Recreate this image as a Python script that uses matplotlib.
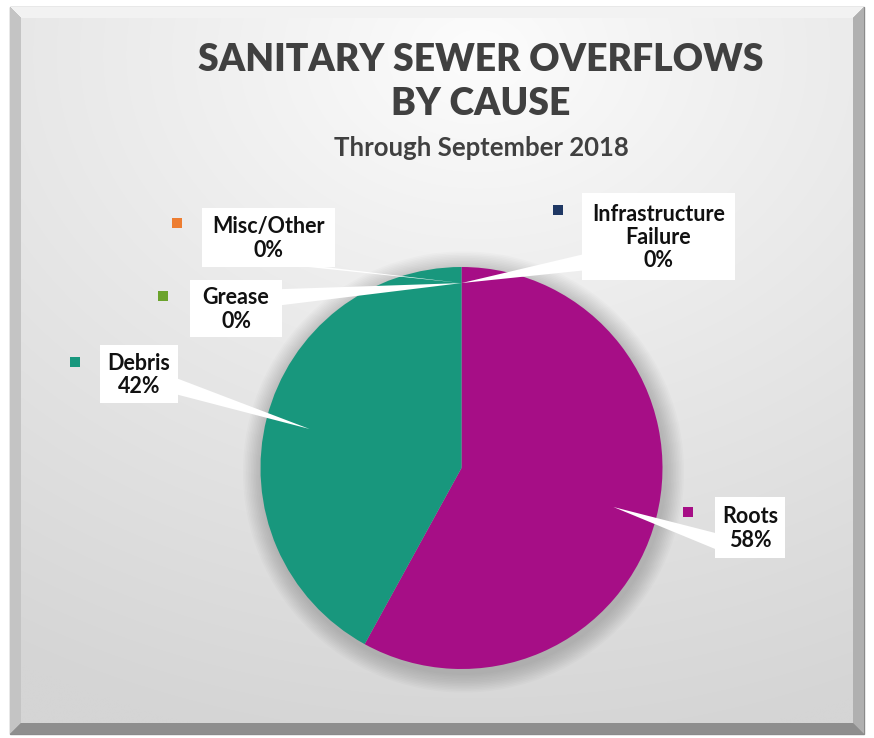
import numpy as np
import matplotlib
matplotlib.use("Agg")
import matplotlib.pyplot as plt
from matplotlib.patches import Polygon, Rectangle, Circle

# ---------------- data ----------------
categories = ["Roots", "Debris", "Grease", "Misc/Other", "Infrastructure\nFailure"]
shares = [58, 42, 0, 0, 0]
colors = ["#A60E86", "#18977D", "#6BA32C", "#ED7D31", "#1F3864"]
title_lines = ["SANITARY SEWER OVERFLOWS", "BY CAUSE"]
subtitle = "Through September 2018"

# ---------------- layout (pixels) ----------------
W, H = 874, 738
CX, CY, R = 461.5, 468.0, 201.0
# label boxes: (x0, y0, x1, y1), marker position, pointer (side, fraction)
boxes = {
    "Roots": ((715, 497, 785, 558), (688, 512), ("left", 0.72)),
    "Debris": ((100, 345, 178, 403), (75, 362), ("right", 0.72)),
    "Grease": ((190, 280, 282, 337), (163, 296), ("right", 0.3)),
    "Misc/Other": ((202, 208, 335, 267), (177, 223), ("bottom", 0.86)),
    "Infrastructure\nFailure": ((582, 193, 735, 280), (558, 210), ("left", 0.8)),
}

FONT = "Lato"
fig = plt.figure(figsize=(W / 100, H / 100), dpi=100)
fig.patch.set_facecolor("white")

# background axes
bg = fig.add_axes([0, 0, 1, 1], zorder=0)
bg.set_xlim(0, W)
bg.set_ylim(H, 0)
bg.axis("off")

ox0, oy0, ox1, oy1 = 10, 7, 864, 734
bev = 11
bg.add_patch(Rectangle((ox0, oy0), ox1 - ox0, oy1 - oy0, facecolor="#9c9c9c", edgecolor="#8a8a8a", lw=1))
bg.add_patch(Polygon([(ox0, oy0), (ox1, oy0), (ox1 - bev, oy0 + bev), (ox0 + bev, oy0 + bev)], closed=True, facecolor="#f2f2f2", lw=0))
bg.add_patch(Polygon([(ox0, oy0), (ox0 + bev, oy0 + bev), (ox0 + bev, oy1 - bev), (ox0, oy1)], closed=True, facecolor="#c4c4c4", lw=0))
bg.add_patch(Polygon([(ox1, oy0), (ox1 - bev, oy0 + bev), (ox1 - bev, oy1 - bev), (ox1, oy1)], closed=True, facecolor="#b0b0b0", lw=0))
bg.add_patch(Polygon([(ox0, oy1), (ox0 + bev, oy1 - bev), (ox1 - bev, oy1 - bev), (ox1, oy1)], closed=True, facecolor="#8e8e8e", lw=0))

ix0, iy0, ix1, iy1 = ox0 + bev, oy0 + bev, ox1 - bev, oy1 - bev
yy, xx = np.mgrid[0:1:200j, 0:1:200j]
d = np.sqrt(((xx - 0.55) / 1.1) ** 2 + ((yy - 0.05) / 1.0) ** 2)
val = 253 - 40 * np.clip(d, 0, 1) ** 0.9
img = np.dstack([val, val, val]) / 255.0
bg.imshow(img, extent=(ix0, ix1, iy1, iy0), aspect="auto", interpolation="bilinear", zorder=1)

for k in range(12):
    rr = R + 2 + k * 1.6
    bg.add_patch(Circle((CX + 2, CY + 4), rr, facecolor="#000000", alpha=0.015, lw=0, zorder=2))

# pie axes
pax = fig.add_axes([(CX - R) / W, (H - (CY + R)) / H, 2 * R / W, 2 * R / H], zorder=1)
pax.pie(shares, colors=colors, startangle=90, counterclock=False, radius=1.0,
        wedgeprops=dict(linewidth=0))
pax.set_xlim(-1, 1)
pax.set_ylim(-1, 1)
pax.set_aspect("equal")
pax.axis("off")

# overlay
ov = fig.add_axes([0, 0, 1, 1], zorder=2)
ov.set_xlim(0, W)
ov.set_ylim(H, 0)
ov.axis("off")
ov.patch.set_alpha(0)

total = float(sum(shares))
cum = 0.0
hw = 8
for cat, v, col in zip(categories, shares, colors):
    mid = 90.0 - 360.0 * (cum + v / 2.0) / total
    cum += v
    frac = 0.78 if v > 0 else 0.92
    tx = CX + frac * R * np.cos(np.radians(mid))
    ty = CY - frac * R * np.sin(np.radians(mid))
    (x0, y0, x1, y1), (mx, my), (side, f) = boxes[cat]
    if side in ("left", "right"):
        sx = x0 if side == "left" else x1
        py = y0 + f * (y1 - y0)
        base = [(sx, py - hw), (sx, py + hw)]
    else:
        sy = y0 if side == "top" else y1
        px = x0 + f * (x1 - x0)
        base = [(px - hw, sy), (px + hw, sy)]
    ov.add_patch(Polygon([base[0], (tx, ty), base[1]], closed=True, facecolor="white", edgecolor="none", zorder=3))
    ov.add_patch(Rectangle((x0, y0), x1 - x0, y1 - y0, facecolor="white", edgecolor="none", zorder=3))
    ov.text((x0 + x1) / 2, (y0 + y1) / 2 + 1, f"{cat}\n{v:.0f}%", ha="center", va="center",
            fontsize=15.5, fontweight="bold", family=FONT, color="#111111", linespacing=1.12, zorder=4)
    ov.add_patch(Rectangle((mx - 5, my - 5), 10, 10, facecolor=col, edgecolor="none", zorder=4))

ov.text(481, 60, title_lines[0], ha="center", va="center", fontsize=26.8, fontweight="heavy",
        family=FONT, color="#404040", zorder=4)
ov.text(481, 104, title_lines[1], ha="center", va="center", fontsize=26.8, fontweight="heavy",
        family=FONT, color="#404040", zorder=4)
ov.text(481, 148, subtitle, ha="center", va="center", fontsize=18.5, fontweight="bold",
        family=FONT, color="#404040", zorder=4)

fig.savefig("out.png", dpi=100, facecolor=fig.get_facecolor())
